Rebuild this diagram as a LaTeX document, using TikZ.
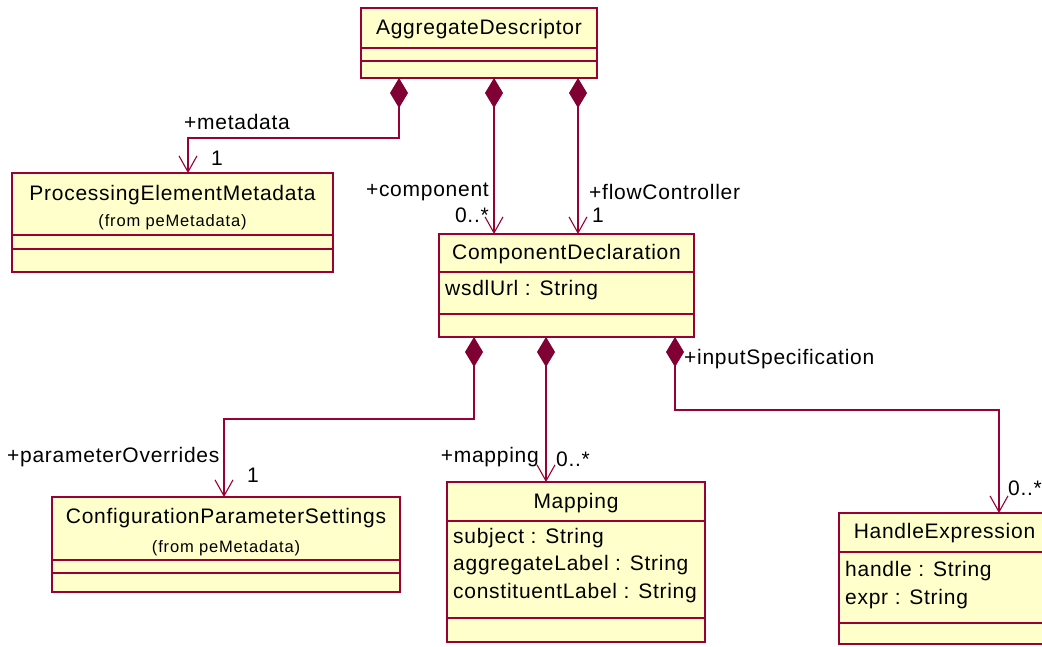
\documentclass[tikz,border=0pt]{standalone}
\usepackage{fontspec}
\setmainfont{Liberation Sans}[LetterSpace=3.5]
\newfontfamily\subfont{Liberation Sans}[LetterSpace=5]
\usetikzlibrary{arrows.meta}
\definecolor{umlred}{RGB}{153,0,51}
\definecolor{umlfill}{RGB}{255,255,204}
\definecolor{umldia}{RGB}{128,0,51}
\begin{document}
\begin{tikzpicture}[x=1pt,y=-1pt,
 cls/.style={draw=umlred,fill=umlfill,line width=1.3pt,anchor=north west,inner sep=0pt,outer sep=0pt},
 ttl/.style={font=\fontsize{21}{24}\selectfont,inner sep=0pt},
 sub/.style={font=\subfont\fontsize{16.5}{18}\selectfont,inner sep=0pt},
 attr/.style={font=\fontsize{21}{24}\selectfont,inner sep=0pt,anchor=west},
 lbl/.style={font=\fontsize{21}{24}\selectfont,inner sep=0pt},
 comp/.style={draw=umlred,line width=1.3pt,{Diamond[length=30pt,width=18pt,fill=umldia,color=umldia]}-{Straight Barb[length=16pt,width=18pt,line width=1.1pt]}},
 div/.style={draw=umlred,line width=1.3pt}]
\useasboundingbox (0,0) rectangle (1042,646);
\fill[white] (0,0) rectangle (1042,646);

% AggregateDescriptor
\node[cls,minimum width=236pt,minimum height=70pt] (ad) at (361,8) {};
\node[ttl] (adt) at ([yshift=-21pt]ad.north) {AggregateDescriptor};
\draw[div] ([yshift=-40pt]ad.north west) -- ([yshift=-40pt]ad.north east);
\draw[div] ([yshift=-53pt]ad.north west) -- ([yshift=-53pt]ad.north east);

% ProcessingElementMetadata
\node[cls,minimum width=321pt,minimum height=99pt] (pem) at (12,173) {};
\node[ttl] (pemt) at ([yshift=-22pt]pem.north) {ProcessingElementMetadata};
\node[sub] (pems) at ([yshift=-49pt]pem.north) {(from peMetadata)};
\draw[div] ([yshift=-62pt]pem.north west) -- ([yshift=-62pt]pem.north east);
\draw[div] ([yshift=-76pt]pem.north west) -- ([yshift=-76pt]pem.north east);

% ComponentDeclaration
\node[cls,minimum width=255pt,minimum height=103pt] (cd) at (439,234) {};
\node[ttl] (cdt) at ([yshift=-20pt]cd.north) {ComponentDeclaration};
\draw[div] ([yshift=-38pt]cd.north west) -- ([yshift=-38pt]cd.north east);
\node[attr] (cda) at ([xshift=6pt,yshift=-56pt]cd.north west) {wsdlUrl : String};
\draw[div] ([yshift=-80pt]cd.north west) -- ([yshift=-80pt]cd.north east);

% ConfigurationParameterSettings
\node[cls,minimum width=348pt,minimum height=95pt] (cps) at (52,497) {};
\node[ttl] (cpst) at ([yshift=-21pt]cps.north) {ConfigurationParameterSettings};
\node[sub] (cpss) at ([yshift=-51pt]cps.north) {(from peMetadata)};
\draw[div] ([yshift=-63pt]cps.north west) -- ([yshift=-63pt]cps.north east);
\draw[div] ([yshift=-76pt]cps.north west) -- ([yshift=-76pt]cps.north east);

% Mapping
\node[cls,minimum width=258pt,minimum height=160pt] (map) at (447,482) {};
\node[ttl] (mapt) at ([yshift=-21pt]map.north) {Mapping};
\draw[div] ([yshift=-39pt]map.north west) -- ([yshift=-39pt]map.north east);
\node[attr] (mapa1) at ([xshift=6pt,yshift=-56pt]map.north west) {subject : String};
\node[attr] (mapa2) at ([xshift=6pt,yshift=-83pt]map.north west) {aggregateLabel : String};
\node[attr] (mapa3) at ([xshift=6pt,yshift=-111pt]map.north west) {constituentLabel : String};
\draw[div] ([yshift=-136pt]map.north west) -- ([yshift=-136pt]map.north east);

% HandleExpression
\node[cls,minimum width=211pt,minimum height=131pt] (he) at (839,513) {};
\node[ttl] (het) at ([yshift=-20pt]he.north) {HandleExpression};
\draw[div] ([yshift=-39pt]he.north west) -- ([yshift=-39pt]he.north east);
\node[attr] (hea1) at ([xshift=6pt,yshift=-58pt]he.north west) {handle : String};
\node[attr] (hea2) at ([xshift=6pt,yshift=-86pt]he.north west) {expr : String};
\draw[div] ([yshift=-110pt]he.north west) -- ([yshift=-110pt]he.north east);

% connectors
\draw[comp] ([xshift=38pt]ad.south west) -- ++(0,60) -| ([xshift=176pt]pem.north west);
\draw[comp] ([xshift=133pt]ad.south west) -- ([xshift=55pt]cd.north west);
\draw[comp] ([xshift=217pt]ad.south west) -- ([xshift=139pt]cd.north west);
\draw[comp] ([xshift=35pt]cd.south west) -- ++(0,82) -| ([xshift=172pt]cps.north west);
\draw[comp] ([xshift=107pt]cd.south west) -- ([xshift=99pt]map.north west);
\draw[comp] ([xshift=236pt]cd.south west) -- ++(0,73) -| ([xshift=160pt]he.north west);

% labels
\node[lbl,anchor=west] (l1) at (184,122) {+metadata};
\node[lbl,anchor=west] (l2) at (211,158) {1};
\node[lbl,anchor=east] (l3) at (489,192) {+component};
\node[lbl,anchor=east] (l4) at (489,215) {0..*};
\node[lbl,anchor=west] (l5) at (589,192) {+flowController};
\node[lbl,anchor=west] (l6) at (592,215) {1};
\node[lbl,anchor=west] (l7) at (7,457) {+parameterOverrides};
\node[lbl,anchor=west] (l8) at (247,475) {1};
\node[lbl,anchor=east] (l9) at (539,457) {+mapping};
\node[lbl,anchor=west] (l10) at (556,459) {0..*};
\node[lbl,anchor=west] (l11) at (684,359) {+inputSpecification};
\node[lbl,anchor=west] (l12) at (1008,488) {0..*};
\end{tikzpicture}
\end{document}
